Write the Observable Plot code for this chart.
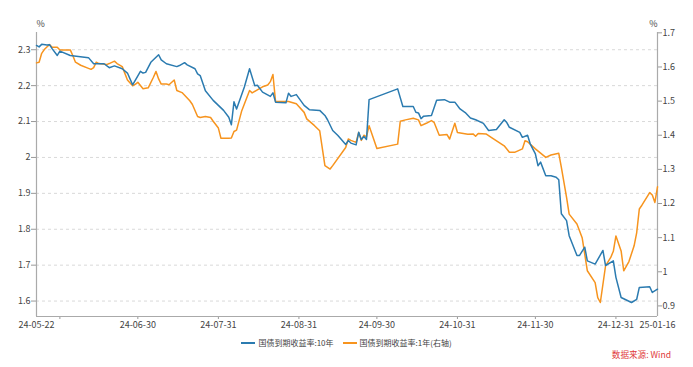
<!DOCTYPE html>
<html>
<head>
<meta charset="utf-8">
<script src="https://cdn.jsdelivr.net/npm/d3@7"></script>
<script src="https://cdn.jsdelivr.net/npm/@observablehq/plot@0.6"></script>
<style>
  body { margin: 0; background: #fff; font-family: "Noto Sans CJK SC", "Noto Sans", sans-serif; }
  #wrap { position: relative; width: 693px; height: 367px; }
  #legend { position: absolute; left: 0; top: 337px; width: 693px; display: flex; justify-content: center; gap: 9px; font-size: 8px; color: #444; line-height: 12px; }
  .item { display: flex; align-items: center; gap: 3px; }
  .sw { width: 14px; height: 2px; display: inline-block; }
  #caption { position: absolute; right: 22px; top: 348px; font-size: 8.6px; color: #e03a3a; line-height: 13px; }
</style>
</head>
<body>
<div id="wrap">
  <div id="chart"></div>
  <div id="legend"></div>
  <div id="caption">数据来源: Wind</div>
</div>
<script>
const seriesNames = ["国债到期收益率:10年", "国债到期收益率:1年(右轴)"];
const seriesColors = ["#2b7bb0", "#f7941e"];

const dates10 = ["2024-05-22","2024-05-23","2024-05-24","2024-05-26","2024-05-27","2024-05-28","2024-05-30","2024-05-31","2024-06-04","2024-06-11","2024-06-13","2024-06-17","2024-06-19","2024-06-21","2024-06-24","2024-06-26","2024-06-28","2024-07-01","2024-07-02","2024-07-03","2024-07-05","2024-07-08","2024-07-09","2024-07-11","2024-07-15","2024-07-16","2024-07-18","2024-07-19","2024-07-22","2024-07-23","2024-07-24","2024-07-26","2024-07-29","2024-07-31","2024-08-02","2024-08-04","2024-08-05","2024-08-06","2024-08-07","2024-08-10","2024-08-12","2024-08-14","2024-08-15","2024-08-17","2024-08-20","2024-08-21","2024-08-22","2024-08-26","2024-08-27","2024-08-28","2024-08-30","2024-09-02","2024-09-04","2024-09-08","2024-09-10","2024-09-11","2024-09-13","2024-09-15","2024-09-18","2024-09-19","2024-09-20","2024-09-22","2024-09-23","2024-09-24","2024-09-25","2024-09-26","2024-09-27","2024-10-08","2024-10-10","2024-10-14","2024-10-15","2024-10-16","2024-10-17","2024-10-18","2024-10-21","2024-10-23","2024-10-26","2024-10-28","2024-10-30","2024-11-01","2024-11-03","2024-11-05","2024-11-07","2024-11-10","2024-11-12","2024-11-15","2024-11-18","2024-11-19","2024-11-20","2024-11-24","2024-11-25","2024-11-27","2024-11-28","2024-11-30","2024-12-01","2024-12-02","2024-12-04","2024-12-06","2024-12-08","2024-12-09","2024-12-10","2024-12-12","2024-12-13","2024-12-16","2024-12-17","2024-12-19","2024-12-20","2024-12-23","2024-12-26","2024-12-27","2024-12-30","2024-12-31","2025-01-02","2025-01-06","2025-01-08","2025-01-09","2025-01-13","2025-01-14","2025-01-16"];
const yield10 = [2.312,2.308,2.315,2.313,2.314,2.303,2.284,2.296,2.284,2.278,2.261,2.261,2.25,2.255,2.247,2.235,2.202,2.24,2.235,2.237,2.265,2.286,2.272,2.261,2.253,2.256,2.264,2.258,2.247,2.233,2.228,2.186,2.159,2.145,2.131,2.112,2.091,2.155,2.135,2.196,2.247,2.2,2.201,2.182,2.17,2.18,2.154,2.152,2.179,2.17,2.175,2.145,2.133,2.131,2.117,2.105,2.075,2.061,2.036,2.047,2.04,2.035,2.07,2.05,2.058,2.05,2.161,2.191,2.142,2.142,2.126,2.124,2.108,2.115,2.117,2.159,2.161,2.154,2.154,2.135,2.125,2.11,2.105,2.095,2.075,2.078,2.105,2.097,2.084,2.07,2.056,2.062,2.038,2.01,1.977,1.987,1.949,1.949,1.945,1.938,1.843,1.824,1.782,1.727,1.727,1.75,1.712,1.703,1.741,1.699,1.712,1.666,1.61,1.596,1.605,1.638,1.64,1.624,1.633];

const dates1 = ["2024-05-22","2024-05-23","2024-05-24","2024-05-25","2024-05-27","2024-05-28","2024-05-30","2024-05-31","2024-06-04","2024-06-05","2024-06-06","2024-06-08","2024-06-11","2024-06-12","2024-06-13","2024-06-14","2024-06-15","2024-06-18","2024-06-19","2024-06-21","2024-06-22","2024-06-24","2024-06-26","2024-06-28","2024-06-29","2024-06-30","2024-07-02","2024-07-04","2024-07-06","2024-07-07","2024-07-08","2024-07-09","2024-07-11","2024-07-12","2024-07-14","2024-07-15","2024-07-17","2024-07-20","2024-07-21","2024-07-23","2024-07-24","2024-07-26","2024-07-28","2024-07-29","2024-07-31","2024-08-01","2024-08-04","2024-08-05","2024-08-06","2024-08-07","2024-08-09","2024-08-12","2024-08-13","2024-08-15","2024-08-17","2024-08-19","2024-08-20","2024-08-21","2024-08-22","2024-08-27","2024-08-30","2024-09-02","2024-09-03","2024-09-06","2024-09-08","2024-09-10","2024-09-12","2024-09-13","2024-09-18","2024-09-19","2024-09-20","2024-09-22","2024-09-23","2024-09-24","2024-09-25","2024-09-26","2024-09-27","2024-09-30","2024-10-08","2024-10-09","2024-10-11","2024-10-14","2024-10-16","2024-10-17","2024-10-19","2024-10-21","2024-10-22","2024-10-24","2024-10-27","2024-10-28","2024-10-30","2024-10-31","2024-11-04","2024-11-06","2024-11-07","2024-11-08","2024-11-11","2024-11-13","2024-11-18","2024-11-20","2024-11-22","2024-11-25","2024-11-26","2024-11-27","2024-11-30","2024-12-04","2024-12-06","2024-12-09","2024-12-10","2024-12-12","2024-12-13","2024-12-16","2024-12-18","2024-12-20","2024-12-23","2024-12-24","2024-12-25","2024-12-27","2024-12-29","2024-12-30","2024-12-31","2025-01-02","2025-01-03","2025-01-05","2025-01-07","2025-01-08","2025-01-09","2025-01-10","2025-01-13","2025-01-14","2025-01-15","2025-01-16"];
const yield1 = [1.612,1.614,1.64,1.651,1.666,1.658,1.658,1.65,1.65,1.633,1.614,1.605,1.596,1.593,1.598,1.614,1.61,1.607,1.61,1.617,1.61,1.601,1.562,1.545,1.549,1.555,1.536,1.539,1.57,1.587,1.565,1.55,1.55,1.548,1.562,1.531,1.525,1.501,1.49,1.455,1.452,1.455,1.452,1.441,1.421,1.391,1.391,1.392,1.411,1.415,1.472,1.531,1.524,1.533,1.542,1.547,1.557,1.578,1.499,1.499,1.492,1.467,1.448,1.428,1.413,1.311,1.301,1.311,1.364,1.389,1.385,1.379,1.408,1.385,1.4,1.395,1.428,1.361,1.374,1.441,1.445,1.45,1.445,1.428,1.435,1.443,1.438,1.4,1.402,1.389,1.435,1.408,1.403,1.404,1.397,1.405,1.404,1.394,1.369,1.35,1.35,1.36,1.384,1.381,1.36,1.335,1.342,1.347,1.306,1.218,1.169,1.14,1.1,1.003,0.968,0.924,0.91,1.017,1.042,1.06,1.105,1.061,1.003,1.03,1.076,1.115,1.184,1.195,1.232,1.225,1.203,1.249];

const leftTicks = [1.6, 1.7, 1.8, 1.9, 2.0, 2.1, 2.2, 2.3];
const rightTicks = [0.9, 1.0, 1.1, 1.2, 1.3, 1.4, 1.5, 1.6, 1.7];
const xTickDates = ["2024-05-31","2024-06-30","2024-07-31","2024-08-31","2024-09-30","2024-10-31","2024-11-30","2024-12-31"];
const xEndDates = ["2024-05-22","2025-01-16"];
const leftDomain = [1.557, 2.348];
const rightDomain = [0.869, 1.701];

const toL = v => leftDomain[0] + (v - rightDomain[0]) * (leftDomain[1] - leftDomain[0]) / (rightDomain[1] - rightDomain[0]);
const fromL = v => rightDomain[0] + (v - leftDomain[0]) * (rightDomain[1] - rightDomain[0]) / (leftDomain[1] - leftDomain[0]);
const numFmt = d3.format("~g");
const dateFmt = d3.utcFormat("%y-%m-%d");

const data10 = dates10.map((d, i) => ({date: new Date(d), v: yield10[i]}));
const data1 = dates1.map((d, i) => ({date: new Date(d), v: yield1[i]}));
const xTicks = xTickDates.map(d => new Date(d));
const xEnds = xEndDates.map(d => new Date(d));

const chart = Plot.plot({
  width: 693,
  height: 335,
  marginLeft: 36,
  marginRight: 36,
  marginTop: 32,
  marginBottom: 19,
  style: {fontFamily: '"Noto Sans CJK SC", "Noto Sans", sans-serif', fontSize: "9px", color: "#444", background: "#fff"},
  x: {type: "utc", domain: [xEnds[0], xEnds[1]]},
  y: {domain: leftDomain},
  marks: [
    Plot.gridY(leftTicks, {stroke: "#d9d9d9", strokeOpacity: 1, strokeDasharray: "3,3"}),
    Plot.axisY(leftTicks, {anchor: "left", tickSize: 5, tickPadding: 1, tickFormat: numFmt, label: null, stroke: "#999", fill: "#444"}),
    Plot.axisY(rightTicks.map(toL), {anchor: "right", tickSize: 4, tickPadding: 1, tickFormat: d => numFmt(Math.round(fromL(d) * 10) / 10), label: null, stroke: "#999", fill: "#444"}),
    Plot.axisX(xTicks, {anchor: "bottom", tickSize: 3, tickPadding: 2, tickFormat: d => d.getUTCMonth() === 4 ? "" : dateFmt(d), label: null, stroke: "#999", fill: "#444"}),
    Plot.axisX(xEnds, {anchor: "bottom", tickSize: 0, tickPadding: 5, tickFormat: dateFmt, label: null, fill: "#444"}),
    Plot.ruleY([leftDomain[0]], {stroke: "#aaa", strokeWidth: 1.2}),
    Plot.ruleX(xEnds, {stroke: "#aaa", strokeWidth: 1.2}),
    Plot.lineY(data1, {x: "date", y: d => toL(d.v), stroke: seriesColors[1], strokeWidth: 1.5}),
    Plot.lineY(data10, {x: "date", y: "v", stroke: seriesColors[0], strokeWidth: 1.5}),
    Plot.text(["%"], {frameAnchor: "top-left", dy: -12, text: d => d, fill: "#444"}),
    Plot.text(["%"], {frameAnchor: "top-right", dy: -12, text: d => d, fill: "#444"})
  ]
});
document.getElementById("chart").append(chart);

const legend = document.getElementById("legend");
seriesNames.forEach((name, i) => {
  const item = document.createElement("span");
  item.className = "item";
  const sw = document.createElement("span");
  sw.className = "sw";
  sw.style.background = seriesColors[i];
  const label = document.createElement("span");
  label.textContent = name;
  item.append(sw, label);
  legend.append(item);
});
</script>
</body>
</html>
